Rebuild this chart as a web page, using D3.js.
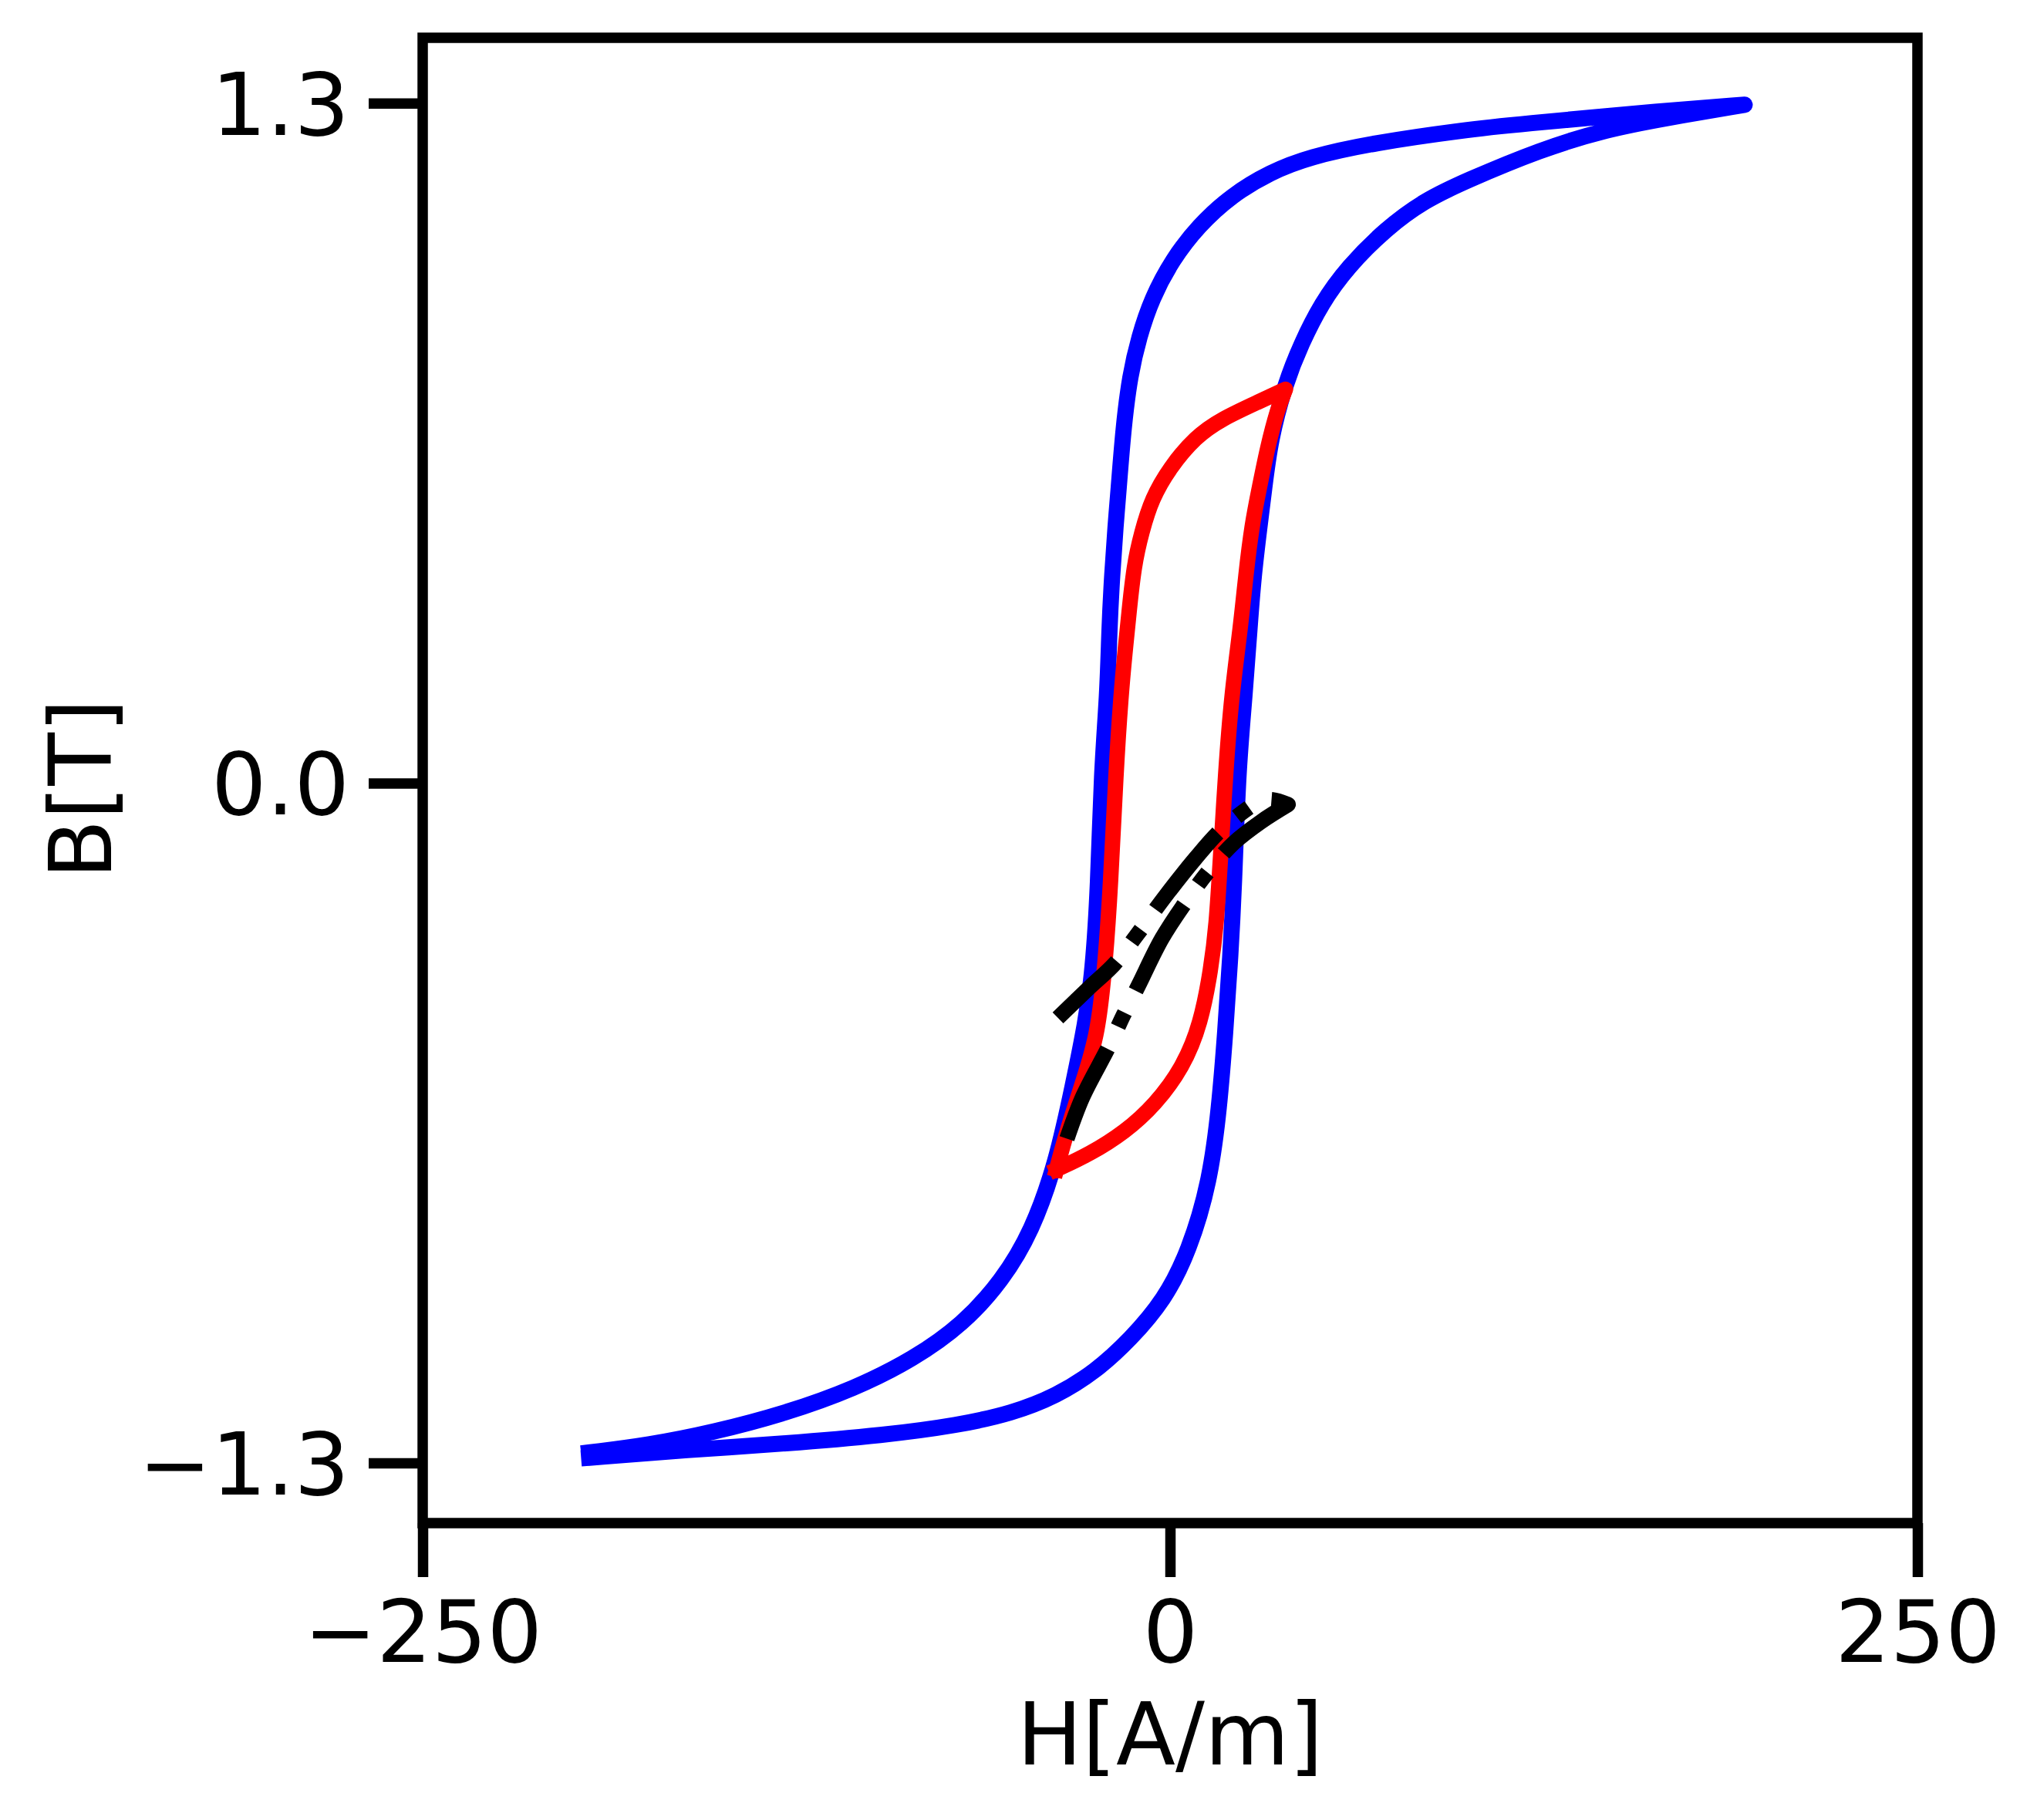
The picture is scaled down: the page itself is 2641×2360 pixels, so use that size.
<!DOCTYPE html>
<html>
<head>
<meta charset="utf-8">
<script src="https://cdn.jsdelivr.net/npm/d3@7"></script>
<style>
  body { margin: 0; background: #fff; }
</style>
</head>
<body>
<svg id="chart" width="2641" height="2360"></svg>
<script>
// major loop (blue), ascending branch from the lower-left tip
var blueUpH = [-194.3, -161.4, -128.5, -95.6, -70.9, -52.8, -38.0, -24.9, -13.3, -1.8, 6.4, 13.3, 16.5, 18.5, 20.2, 21.4, 22.7, 25.0, 26.6, 27.9, 30.0, 31.3, 33.5, 38.6, 43.8, 50.6, 59.3, 72.2, 85.1, 98.8, 123.8, 146.0, 166.5, 192.2]
var blueUpB = [-1.290, -1.275, -1.263, -1.247, -1.228, -1.205, -1.172, -1.125, -1.064, -0.988, -0.894, -0.763, -0.620, -0.475, -0.330, -0.200, 0.023, 0.170, 0.298, 0.396, 0.495, 0.554, 0.657, 0.765, 0.839, 0.917, 0.986, 1.060, 1.114, 1.151, 1.211, 1.250, 1.272, 1.297]
// major loop, descending branch from the upper-right tip
var blueDownH = [192.2, 166.5, 115.3, 98.8, 67.9, 46.4, 33.5, 20.6, 9.4, 0.8, -6.1, -10.4, -13.4, -15.6, -17.3, -18.2, -19.4, -20.3, -20.9, -22.9, -24.0, -25.8, -28.3, -32.2, -38.0, -46.2, -56.1, -69.3, -85.7, -105.5, -128.5, -153.2, -174.6, -194.3]
var blueDownB = [1.297, 1.286, 1.259, 1.249, 1.224, 1.197, 1.168, 1.124, 1.065, 1.001, 0.927, 0.853, 0.780, 0.681, 0.554, 0.495, 0.396, 0.298, 0.170, 0.023, -0.198, -0.360, -0.460, -0.570, -0.725, -0.857, -0.951, -1.035, -1.101, -1.158, -1.205, -1.242, -1.266, -1.280]

// minor loop (red)
var redUpH = [-38.0, -27.0, -15.0, -5.0, 4.3, 10.3, 13.7, 15.5, 16.8, 18.6, 20.6, 23.6, 25.3, 27.4, 30.0, 32.6, 36.0, 38.6]
var redUpB = [-0.739, -0.710, -0.667, -0.615, -0.544, -0.460, -0.355, -0.272, -0.150, 0.023, 0.170, 0.298, 0.396, 0.495, 0.568, 0.642, 0.716, 0.753]
var redDownH = [38.6, 30.0, 17.1, 8.5, -0.1, -6.1, -9.5, -12.1, -13.8, -15.1, -16.4, -18.1, -19.9, -21.6, -24.1, -28.9, -34.5, -38.0]
var redDownB = [0.753, 0.730, 0.696, 0.662, 0.603, 0.544, 0.480, 0.416, 0.322, 0.249, 0.170, 0.023, -0.198, -0.340, -0.480, -0.567, -0.665, -0.739]

// small loop (black, dash-dot)
var blackUpH = [-34.5, -29.3, -20.7, -15.6, -10.4, -2.7, 6.4, 13.2, 21.4, 30.4, 39.5]
var blackUpB = [-0.680, -0.601, -0.506, -0.444, -0.385, -0.297, -0.218, -0.166, -0.114, -0.074, -0.041]
var blackDownH = [39.5, 34.3, 30.0, 26.6, 16.8, 8.5, -1.8, -11.3, -18.6, -26.8, -37.5]
var blackDownB = [-0.041, -0.032, -0.034, -0.046, -0.091, -0.144, -0.218, -0.292, -0.346, -0.390, -0.449]

var xTicks = [-250, 0, 250]
var xTickLabels = ["\u2212250", "0", "250"]
var yTicks = [-1.3, 0, 1.3]
var yTickLabels = ["\u22121.3", "0.0", "1.3"]

var W = 2641, Hpx = 2360
var fontFam = "'DejaVu Sans', sans-serif"
var plotL = 548, plotR = 2486, plotT = 49, plotB = 1975

var x = d3.scaleLinear().domain([-250, 250]).range([plotL, plotR])
var y = d3.scaleLinear().domain([-1.415, 1.425]).range([plotB, plotT])

var svg = d3.select("#chart")
svg.append("rect").attr("width", W).attr("height", Hpx).attr("fill", "#fff")

function zip(hs, bs) { return hs.map((h, i) => [h, bs[i]]) }

// smooth the hand-read points a little; the ends stay pinned to the tips
var smoothLine = d3.line()
    .x(d => x(d[0]))
    .y(d => y(d[1]))
    .curve(d3.curveBasis)

var throughLine = d3.line()
    .x(d => x(d[0]))
    .y(d => y(d[1]))
    .curve(d3.curveCatmullRom.alpha(0.5))

// join both branches into one path so the tip gets a proper join
function loopPath(line, hu, bu, hd, bd) {
    return line(zip(hu, bu)) + line(zip(hd, bd)).replace(/^M/, "L")
}

svg.append("path")
    .attr("d", loopPath(smoothLine, blueUpH, blueUpB, blueDownH, blueDownB))
    .attr("fill", "none")
    .attr("stroke", "#0000ff")
    .attr("stroke-width", 21)
    .attr("stroke-linejoin", "round")
    .attr("stroke-linecap", "square")

svg.append("path")
    .attr("d", loopPath(smoothLine, redUpH, redUpB, redDownH, redDownB))
    .attr("fill", "none")
    .attr("stroke", "#ff0000")
    .attr("stroke-width", 20)
    .attr("stroke-linejoin", "round")
    .attr("stroke-linecap", "square")

svg.append("path")
    .attr("d", loopPath(throughLine, blackUpH, blackUpB, blackDownH, blackDownB))
    .attr("fill", "none")
    .attr("stroke", "#000")
    .attr("stroke-width", 20)
    .attr("stroke-dasharray", "128,32,20,32")
    .attr("stroke-linejoin", "round")
    .attr("stroke-linecap", "butt")

// axes
var yAxis = d3.axisLeft(y)
    .tickValues(yTicks)
    .tickFormat((d, i) => yTickLabels[i])
    .tickSize(70)
    .tickPadding(25)
var gy = svg.append("g").attr("transform", `translate(${plotL},0)`).call(yAxis)
gy.select(".domain").remove()
gy.selectAll(".tick line").attr("stroke", "#000").attr("stroke-width", 13.5)
gy.selectAll(".tick text")
    .attr("font-size", 112.5)
    .attr("font-family", fontFam)
    .attr("fill", "#000")
    .attr("dy", "0.36em")

var xAxis = d3.axisBottom(x)
    .tickValues(xTicks)
    .tickFormat((d, i) => xTickLabels[i])
    .tickSize(70)
    .tickPadding(30)
var gx = svg.append("g").attr("transform", `translate(0,${plotB})`).call(xAxis)
gx.select(".domain").remove()
gx.selectAll(".tick line").attr("stroke", "#000").attr("stroke-width", 13.5)
gx.selectAll(".tick text")
    .attr("font-size", 112.5)
    .attr("font-family", fontFam)
    .attr("fill", "#000")

// frame
svg.append("rect")
    .attr("x", plotL).attr("y", plotT)
    .attr("width", plotR - plotL).attr("height", plotB - plotT)
    .attr("fill", "none")
    .attr("stroke", "#000")
    .attr("stroke-width", 13.5)

svg.append("text")
    .attr("x", (plotL + plotR) / 2)
    .attr("y", 2288)
    .attr("text-anchor", "middle")
    .attr("font-size", 112.5)
    .attr("font-family", fontFam)
    .attr("fill", "#000")
    .text("H[A/m]")

svg.append("text")
    .attr("transform", "translate(144,1023) rotate(-90)")
    .attr("text-anchor", "middle")
    .attr("font-size", 112.5)
    .attr("font-family", fontFam)
    .attr("fill", "#000")
    .text("B[T]")
</script>
</body>
</html>
